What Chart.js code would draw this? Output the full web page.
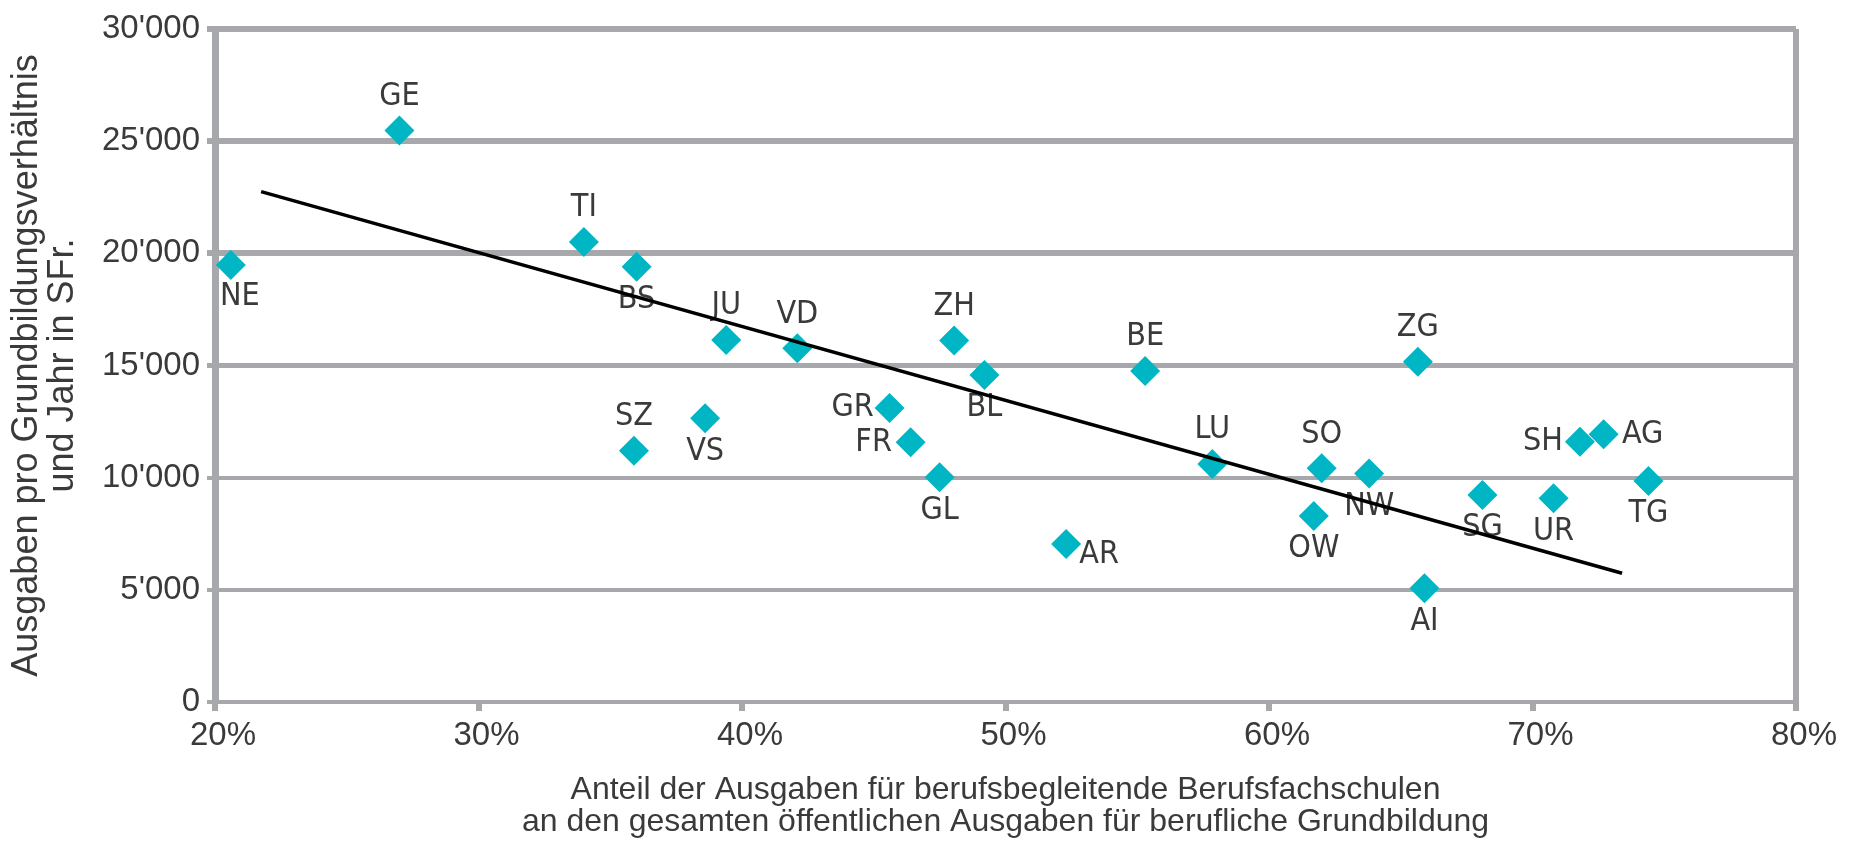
<!DOCTYPE html>
<html>
<head>
<meta charset="utf-8">
<script src="https://cdn.jsdelivr.net/npm/chart.js@4.4.1/dist/chart.umd.min.js"></script>
<style>
  html, body { margin: 0; padding: 0; background: #fff; }
  #wrap { width: 1860px; height: 846px; }
</style>
</head>
<body>
<div id="wrap"><canvas id="scatterChart"></canvas></div>
<script>
// cantons and values
const cantons = ['NE', 'GE', 'TI', 'BS', 'JU', 'VD', 'ZH', 'BL', 'BE', 'ZG', 'SZ', 'VS', 'GR',
    'FR', 'GL', 'AR', 'LU', 'SO', 'OW', 'NW', 'SG', 'UR', 'SH', 'AG', 'TG', 'AI'];
const shareBerufsbegleitend = [20.6, 27.0, 34.0, 36.0, 39.4, 42.1, 48.05, 49.2, 55.3, 65.65, 35.9, 38.6, 45.6,
    46.4, 47.5, 52.3, 57.85, 62.0, 61.7, 63.8, 68.1, 70.8, 71.8, 72.7, 74.4, 65.9];
const ausgabenProVerhaeltnis = [19480, 25470, 20500, 19400, 16140, 15770, 16110, 14580, 14760, 15170, 11200, 12650, 13100,
    11580, 10020, 7040, 10610, 10420, 8290, 10190, 9230, 9080, 11600, 11930, 9850, 5070];
const trendX = [21.75, 73.4];
const trendY = [22750, 5740];
const xTicks = [20, 30, 40, 50, 60, 70, 80];
const yTicks = [0, 5000, 10000, 15000, 20000, 25000, 30000];

// where each canton's label sits relative to its marker
const labelSide = ['bR', 't', 't', 'b', 't', 't', 't', 'b', 't', 't', 't', 'b', 'l',
    'l', 'b', 'br', 't', 't', 'b', 'b', 'b', 'b', 'l', 'r', 'b', 'b'];
const sideOffset = { t: [0, -34], b: [0, 33], l: [-37, 0], r: [39, 0], br: [33, 11], bR: [9, 32] };

const gridGrey = '#a6a8ab';
const textGrey = '#3a3a3a';
const fontFamily = "'Liberation Sans', Arial, sans-serif";
const labelFamily = "'Liberation Sans Narrow', 'Arial Narrow', 'DejaVu Sans Condensed', sans-serif";

const fmtThousands = v => {
    const s = String(Math.round(v));
    return s.replace(/\B(?=(\d{3})+(?!\d))/g, "'");
};

const cantonLabels = {
    id: 'cantonLabels',
    beforeDatasetsDraw(chart) {
        const meta = chart.getDatasetMeta(0);
        const ctx = chart.ctx;
        ctx.save();
        ctx.font = '32px ' + labelFamily;
        ctx.fillStyle = textGrey;
        ctx.textAlign = 'center';
        ctx.textBaseline = 'middle';
        meta.data.forEach((pt, i) => {
            const off = sideOffset[labelSide[i]];
            ctx.fillText(cantons[i], pt.x + off[0], pt.y + off[1]);
        });
        ctx.restore();
    }
};

const ctxScatter = document.getElementById('scatterChart').getContext('2d');
new Chart(ctxScatter, {
    type: 'scatter',
    data: {
        datasets: [{
            label: 'Kantone',
            data: cantons.map((c, i) => ({ x: shareBerufsbegleitend[i], y: ausgabenProVerhaeltnis[i] })),
            pointStyle: 'rectRot',
            pointRadius: 15,
            pointHoverRadius: 15,
            backgroundColor: '#00b5c4',
            borderWidth: 0,
            order: 1
        }, {
            label: 'Trend',
            data: trendX.map((x, i) => ({ x: x, y: trendY[i] })),
            showLine: true,
            borderColor: '#000',
            borderWidth: 3.5,
            pointRadius: 0,
            order: 0
        }]
    },
    options: {
        responsive: true,
        maintainAspectRatio: false,
        animation: false,
        layout: { padding: { top: 29, right: 64, bottom: 0, left: 0 } },
        plugins: {
            legend: { display: false },
            tooltip: { enabled: false }
        },
        scales: {
            x: {
                type: 'linear',
                min: 20,
                max: 80,
                afterBuildTicks: scale => { scale.ticks = xTicks.map(v => ({ value: v })); },
                afterFit: scale => { scale.height = 144; },
                ticks: {
                    callback: v => v + '%',
                    color: textGrey,
                    font: { family: fontFamily, size: 33 },
                    padding: 5,
                    labelOffset: 8,
                    maxRotation: 0
                },
                grid: {
                    color: c => (c.tick && c.tick.value === 80) ? gridGrey : 'transparent',
                    lineWidth: 6,
                    tickColor: gridGrey,
                    tickWidth: 6,
                    tickLength: 9
                },
                border: { color: gridGrey, width: 4 },
                title: {
                    display: true,
                    text: ['Anteil der Ausgaben für berufsbegleitende Berufsfachschulen',
                        'an den gesamten öffentlichen Ausgaben für berufliche Grundbildung'],
                    color: textGrey,
                    font: { family: fontFamily, size: 32, lineHeight: 1.0 },
                    padding: { top: 0, bottom: 8 }
                }
            },
            y: {
                min: 0,
                max: 30000,
                afterBuildTicks: scale => { scale.ticks = yTicks.map(v => ({ value: v })); },
                afterFit: scale => { scale.width = 215; },
                ticks: {
                    callback: v => fmtThousands(v),
                    color: textGrey,
                    font: { family: fontFamily, size: 33 },
                    padding: 7
                },
                grid: {
                    color: gridGrey,
                    lineWidth: c => (c.tick && c.tick.value >= 20000) ? 6 : (c.tick && c.tick.value === 15000 ? 5 : 4),
                    tickColor: gridGrey,
                    tickLength: 8
                },
                border: { color: gridGrey, width: 7 },
                title: {
                    display: true,
                    text: ['Ausgaben pro Grundbildungsverhältnis', 'und Jahr in SFr.'],
                    color: textGrey,
                    font: { family: fontFamily, size: 36, lineHeight: 1.0 },
                    padding: { top: 9, bottom: 0 }
                }
            }
        }
    },
    plugins: [cantonLabels]
});
</script>
</body>
</html>
